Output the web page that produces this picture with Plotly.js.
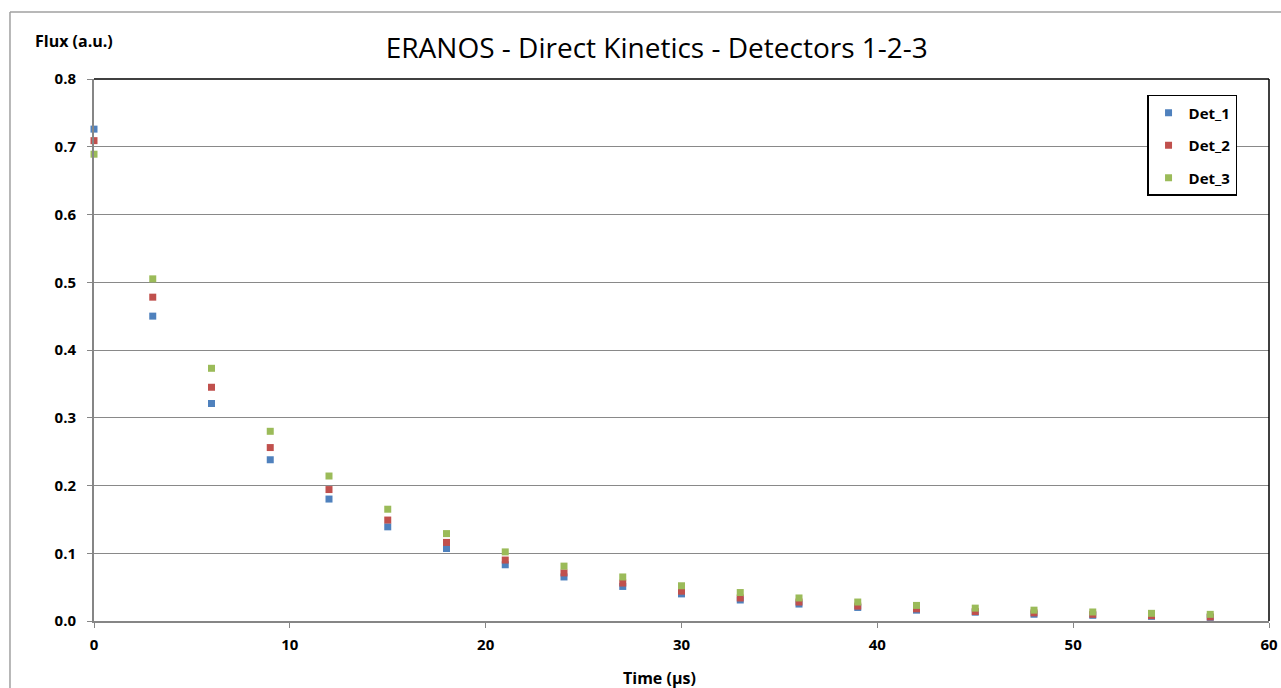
<!DOCTYPE html>
<html>
<head>
<meta charset="utf-8">
<script src="https://cdn.plot.ly/plotly-3.0.1.min.js"></script>
<style>
  html, body { margin: 0; padding: 0; background: #ffffff; }
  #chart { width: 1281px; height: 688px; }
</style>
</head>
<body>
<div id="chart"></div>
<script>
// Sampling times (µs)
const timeUs = [0, 3, 6, 9, 12, 15, 18, 21, 24, 27, 30, 33, 36, 39, 42, 45, 48, 51, 54, 57];

// Detector fluxes (a.u.)
const det1 = [0.726, 0.450, 0.321, 0.238, 0.180, 0.139, 0.107, 0.083, 0.065, 0.051, 0.040, 0.031, 0.025, 0.020, 0.016, 0.013, 0.010, 0.0084, 0.0069, 0.0054];
const det2 = [0.709, 0.478, 0.345, 0.256, 0.194, 0.149, 0.116, 0.090, 0.071, 0.056, 0.044, 0.034, 0.028, 0.022, 0.018, 0.014, 0.012, 0.0098, 0.0079, 0.0060];
const det3 = [0.689, 0.505, 0.373, 0.280, 0.214, 0.165, 0.129, 0.102, 0.081, 0.065, 0.052, 0.042, 0.034, 0.028, 0.023, 0.019, 0.016, 0.0133, 0.0113, 0.0098];

const seriesNames = ['Det_1', 'Det_2', 'Det_3'];
const seriesColors = ['#4F81BD', '#C0504D', '#9BBB59'];
const yTicks = [0, 0.1, 0.2, 0.3, 0.4, 0.5, 0.6, 0.7, 0.8];
const xTicks = [0, 10, 20, 30, 40, 50, 60];

const FONT = 'Open Sans, Noto Sans, sans-serif';

const traces = [det1, det2, det3].map((ys, i) => ({
  type: 'scatter',
  mode: 'markers',
  name: seriesNames[i],
  legendgroup: seriesNames[i],
  x: timeUs,
  y: ys,
  cliponaxis: false,
  marker: { symbol: 'square', size: 7, color: seriesColors[i], line: { width: 0 } }
}));

const layout = {
  width: 1281,
  height: 688,
  paper_bgcolor: '#ffffff',
  plot_bgcolor: '#ffffff',
  margin: { l: 94, r: 12, t: 79, b: 67 },
  showlegend: true,
  title: {
    text: 'ERANOS - Direct Kinetics - Detectors 1-2-3',
    font: { family: FONT, size: 28, color: '#000000' },
    x: 0.479, xanchor: 'center', xref: 'paper',
    y: 0.93, yref: 'container', yanchor: 'middle'
  },
  xaxis: {
    range: [0, 60],
    tickvals: xTicks,
    ticktext: xTicks.map(String),
    showgrid: false,
    zeroline: false,
    showline: true,
    linecolor: '#868686',
    linewidth: 2,
    ticks: 'outside',
    ticklen: 5,
    tickcolor: '#868686',
    ticklabelstandoff: 4,
    tickfont: { family: FONT, size: 15, color: '#000000', weight: 'bold' },
    fixedrange: true
  },
  yaxis: {
    range: [0, 0.8],
    tickvals: yTicks,
    ticktext: yTicks.map(v => v.toFixed(1)),
    showgrid: true,
    gridcolor: '#898989',
    gridwidth: 1,
    zeroline: false,
    showline: true,
    linecolor: '#868686',
    linewidth: 2,
    ticks: 'outside',
    ticklen: 5,
    tickcolor: '#868686',
    ticklabelstandoff: 8,
    tickfont: { family: FONT, size: 15, color: '#000000', weight: 'bold' },
    fixedrange: true
  },
  legend: {
    x: 0.9728, xanchor: 'right',
    y: 0.9705, yanchor: 'top',
    bgcolor: '#ffffff',
    bordercolor: '#000000',
    borderwidth: 1.5,
    font: { family: FONT, size: 15, color: '#000000', weight: 'bold' },
    itemsizing: 'trace',
    itemwidth: 30,
    traceorder: 'grouped',
    tracegroupgap: 10
  },
  annotations: [
    {
      text: '<b>Flux (a.u.)</b>',
      xref: 'paper', yref: 'paper',
      x: -0.0515, y: 1.0701, xanchor: 'left', yanchor: 'middle',
      showarrow: false,
      font: { family: FONT, size: 16, color: '#000000' }
    },
    {
      text: '<b>Time (µs)</b>',
      xref: 'paper', yref: 'paper',
      x: 0.4817, y: -0.1052, xanchor: 'center', yanchor: 'middle',
      showarrow: false,
      font: { family: FONT, size: 16, color: '#000000' }
    }
  ],
  shapes: [
    // plot frame top and right edges
    { type: 'line', xref: 'paper', yref: 'paper', x0: 0, x1: 1, y0: 1, y1: 1, line: { color: '#000000', width: 1.5 } },
    { type: 'line', xref: 'paper', yref: 'paper', x0: 1, x1: 1, y0: 0, y1: 1, line: { color: '#000000', width: 1.5 } },
    // outer chart border
    { type: 'line', xref: 'paper', yref: 'paper', x0: -0.0715, x1: 1.02, y0: 1.1236, y1: 1.1236, line: { color: '#A0A0A0', width: 1.5 } },
    { type: 'line', xref: 'paper', yref: 'paper', x0: -0.0715, x1: -0.0715, y0: -0.13, y1: 1.1236, line: { color: '#A0A0A0', width: 1.5 } }
  ]
};

Plotly.newPlot('chart', traces, layout, { displayModeBar: false, staticPlot: true });
</script>
</body>
</html>
